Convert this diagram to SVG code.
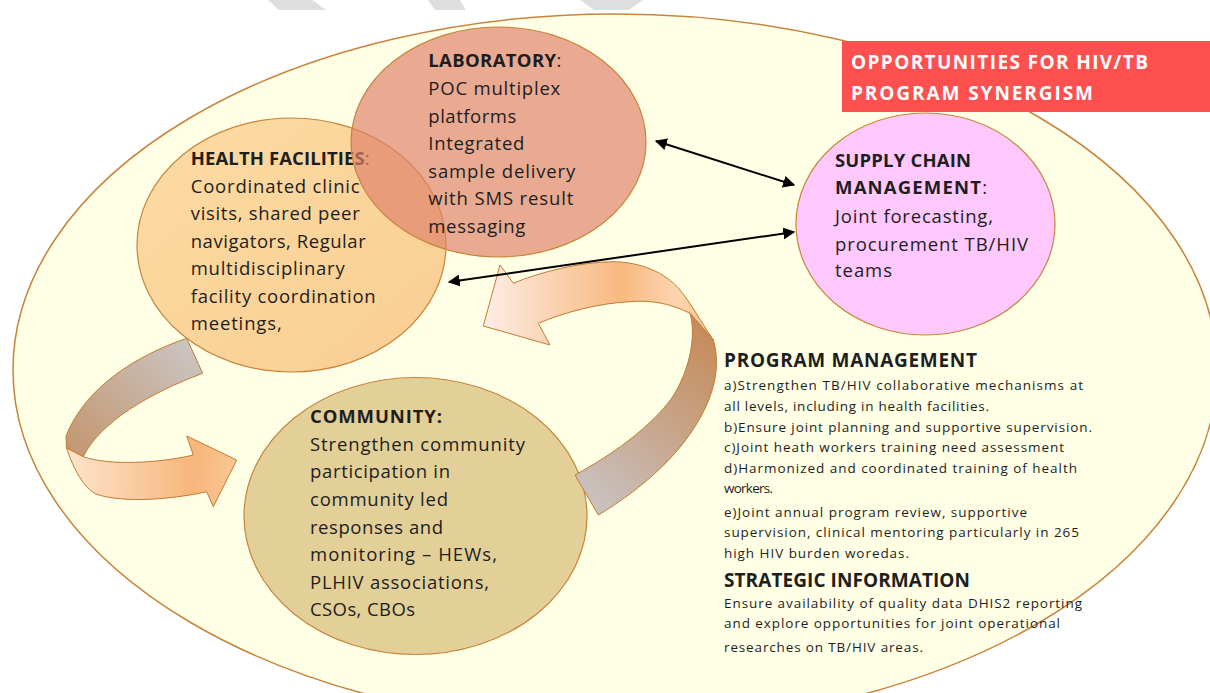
<svg xmlns="http://www.w3.org/2000/svg" width="1210" height="693" viewBox="0 0 1210 693">
<defs>
<style>
.t{font-family:"Open Sans","Liberation Sans",sans-serif;font-size:18.5px;fill:#1e1e1e}
.b{font-weight:bold}
.s{font-size:13.5px}
.hd{font-size:19px;font-weight:bold}
.ttl{font-family:"Open Sans","Liberation Sans",sans-serif;font-size:19px;font-weight:bold;fill:#ffffff}
.node{stroke:#c8843c;stroke-width:1.2}
.rib{stroke:#c47a34;stroke-width:1}
.conn{stroke:#000;stroke-width:2;fill:none}
.wm{fill:#dedede}
</style>
<linearGradient id="gHealth" x1="0" y1="0" x2="1" y2="1">
<stop offset="0" stop-color="#fcdca4"/><stop offset="1" stop-color="#f9cd92"/>
</linearGradient>
<linearGradient id="gGrayA" gradientUnits="userSpaceOnUse" x1="190" y1="340" x2="75" y2="452">
<stop offset="0" stop-color="#cac5c2"/><stop offset="1" stop-color="#c49873"/>
</linearGradient>
<linearGradient id="gOrA" gradientUnits="userSpaceOnUse" x1="70" y1="470" x2="235" y2="475">
<stop offset="0" stop-color="#fde3cb"/><stop offset="0.75" stop-color="#f7b67b"/><stop offset="1" stop-color="#f9c794"/>
</linearGradient>
<linearGradient id="gGrayB" gradientUnits="userSpaceOnUse" x1="580" y1="500" x2="715" y2="345">
<stop offset="0" stop-color="#c9c3c3"/><stop offset="1" stop-color="#c68d5c"/>
</linearGradient>
<linearGradient id="gOrB" gradientUnits="userSpaceOnUse" x1="483" y1="300" x2="712" y2="300">
<stop offset="0" stop-color="#fdeee6"/><stop offset="0.6" stop-color="#f8b97f"/><stop offset="0.85" stop-color="#fcd5b0"/><stop offset="1" stop-color="#f8c08a"/>
</linearGradient>
<marker id="ah" viewBox="0 0 10 10" refX="9" refY="5" markerWidth="6" markerHeight="6" orient="auto-start-reverse" markerUnits="strokeWidth">
<path d="M0,0 L10,5 L0,10 Z" fill="#000"/>
</marker>
</defs>
<rect width="1210" height="693" fill="#ffffff"/>
<g id="watermark">
<polygon class="wm" points="268,0 312,0 326,10 279,10"/>
<polygon class="wm" points="428,0 460,0 466,10 435,10"/>
<polygon class="wm" points="580,0 643,0 629,10 594,10"/>
</g>
<g id="frame">
<ellipse cx="615" cy="370" rx="602" ry="356" fill="#ffffe5" stroke="#c8843c" stroke-width="1.5"/>
</g>
<g id="health-facilities">
<ellipse class="node" cx="291.5" cy="245" rx="154.5" ry="127" fill="url(#gHealth)"/>
<text class="t" x="190.7" y="165" textLength="179"><tspan class="b">HEALTH FACILITIES</tspan>:</text>
<text class="t" x="190.7" y="192.7" textLength="169">Coordinated clinic</text>
<text class="t" x="190.7" y="220" textLength="169">visits, shared peer</text>
<text class="t" x="190.7" y="247.5" textLength="175">navigators, Regular</text>
<text class="t" x="190.7" y="275" textLength="154">multidisciplinary</text>
<text class="t" x="190.7" y="302.5" textLength="185">facility coordination</text>
<text class="t" x="190.7" y="330" textLength="91">meetings,</text>
</g>
<g id="laboratory">
<ellipse class="node" cx="498.5" cy="142" rx="147.5" ry="115" fill="#e0826a" fill-opacity="0.68"/>
<text class="t" x="428.3" y="67" textLength="133"><tspan class="b">LABORATORY</tspan>:</text>
<text class="t" x="428.3" y="95" textLength="132">POC multiplex</text>
<text class="t" x="428.3" y="122.7" textLength="88">platforms</text>
<text class="t" x="428.3" y="150" textLength="96">Integrated</text>
<text class="t" x="428.3" y="177.7" textLength="147">sample delivery</text>
<text class="t" x="428.3" y="205" textLength="145">with SMS result</text>
<text class="t" x="428.3" y="232.7" textLength="97">messaging</text>
</g>
<g id="community">
<ellipse class="node" cx="415.5" cy="516" rx="171.5" ry="138.5" fill="#e3d099"/>
<text class="t b" x="310" y="422.7" textLength="132">COMMUNITY:</text>
<text class="t" x="310" y="450.7" textLength="215">Strengthen community</text>
<text class="t" x="310" y="478.3" textLength="140">participation in</text>
<text class="t" x="310" y="506" textLength="138">community led</text>
<text class="t" x="310" y="533.5" textLength="133">responses and</text>
<text class="t" x="310" y="561" textLength="187">monitoring – HEWs,</text>
<text class="t" x="310" y="589" textLength="179">PLHIV associations,</text>
<text class="t" x="310" y="616.3" textLength="105">CSOs, CBOs</text>
</g>
<g id="supply-chain">
<ellipse class="node" cx="925.5" cy="224" rx="129.5" ry="111" fill="#ffc9ff"/>
<text class="t b" x="835" y="166.7" textLength="136">SUPPLY CHAIN</text>
<text class="t" x="835" y="194.3" textLength="152"><tspan class="b">MANAGEMENT</tspan>:</text>
<text class="t" x="835" y="222.7" textLength="158">Joint forecasting,</text>
<text class="t" x="835" y="250.7" textLength="193">procurement TB/HIV</text>
<text class="t" x="835" y="277" textLength="57">teams</text>
</g>
<g id="cycle-arrow-left">
<path class="rib" fill="url(#gGrayA)" d="M186.7,338.3 C135,356 85,388 66,436 L66.5,448 L83.3,456.7 C100,422 150,393 202.7,373.3 Z"/>
<path class="rib" fill="url(#gOrA)" d="M66.5,448 L83.3,456.7 C110,466 160,463 193.3,455 L186.7,436 L236.7,460 L213.3,506.7 L206.7,491.7 C170,500 120,503 96,494 C84,488 74,470 66.5,448 Z"/>
</g>
<g id="cycle-arrow-right">
<path class="rib" fill="url(#gOrB)" d="M483.3,326 L500,265 L513.3,283.3 C540,272 580,262 613,261.7 C640,262 665,272 680,290 C690,302 700,320 713.3,340 L690,313.3 C670,303 650,300 630,301.7 C600,303 565,312 538.3,323.3 L550,345 Z"/>
<path class="rib" fill="url(#gGrayB)" d="M690,313.3 C695,330 693,360 676.7,390 C665,412 630,445 575,475 L598.3,515 C640,490 690,450 710,396.7 C718,375 718,355 713.3,340 Z"/>
</g>
<g id="connectors">
<line class="conn" x1="656" y1="141" x2="794" y2="185" marker-start="url(#ah)" marker-end="url(#ah)"/>
<line class="conn" x1="449" y1="282" x2="794" y2="232" marker-start="url(#ah)" marker-end="url(#ah)"/>
</g>
<g id="title">
<rect x="842" y="41" width="368" height="71" fill="#ff5050"/>
<text class="ttl" x="851" y="68.5" textLength="297">OPPORTUNITIES FOR HIV/TB</text>
<text class="ttl" x="851" y="100" textLength="242">PROGRAM SYNERGISM</text>
</g>
<g id="program-management">
<text class="t hd" x="724" y="366.7" textLength="253">PROGRAM MANAGEMENT</text>
<text class="t s" x="724" y="390" textLength="359">a)Strengthen TB/HIV collaborative mechanisms at</text>
<text class="t s" x="724" y="410.7" textLength="265">all levels, including in health facilities.</text>
<text class="t s" x="724" y="431.7" textLength="368">b)Ensure joint planning and supportive supervision.</text>
<text class="t s" x="724" y="452" textLength="340">c)Joint heath workers training need assessment</text>
<text class="t s" x="724" y="472.7" textLength="353">d)Harmonized  and coordinated training of health</text>
<text class="t s" x="724" y="493" textLength="49">workers.</text>
<text class="t s" x="724" y="516.7" textLength="303">e)Joint annual program review, supportive</text>
<text class="t s" x="724" y="537" textLength="355">supervision, clinical mentoring particularly in 265</text>
<text class="t s" x="724" y="558" textLength="185">high HIV burden woredas.</text>
</g>
<g id="strategic-information">
<text class="t hd" x="724" y="586.7" textLength="246">STRATEGIC INFORMATION</text>
<text class="t s" x="724" y="608.3" textLength="358">Ensure availability of quality data DHIS2 reporting</text>
<text class="t s" x="724" y="628.3" textLength="336">and explore opportunities for joint operational</text>
<text class="t s" x="724" y="651.7" textLength="199">researches on TB/HIV areas.</text>
</g>
</svg>
